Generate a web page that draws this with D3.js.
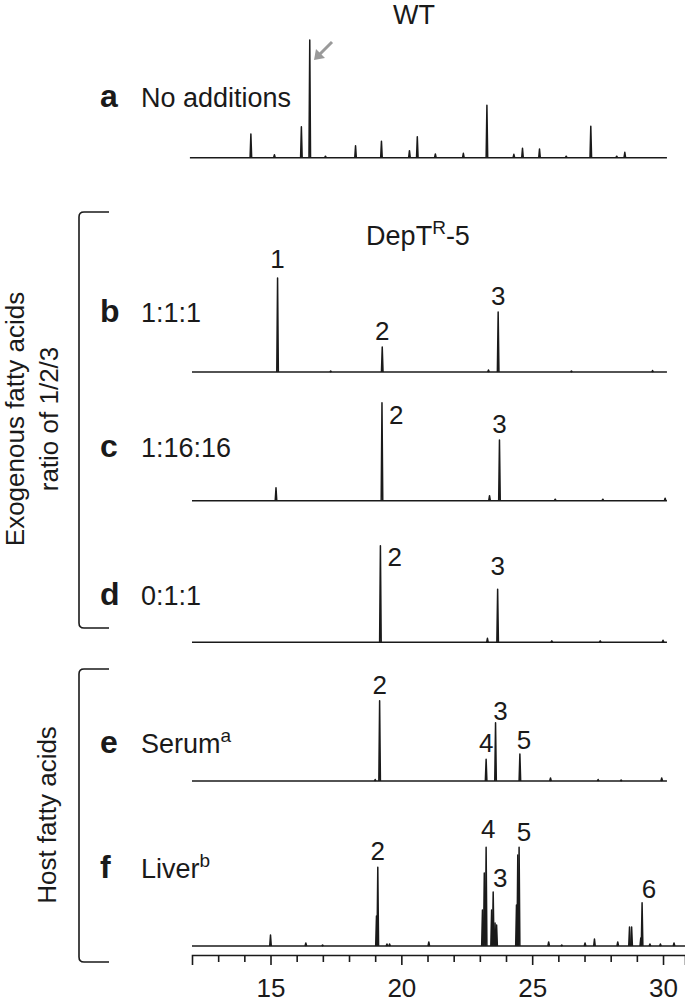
<!DOCTYPE html>
<html>
<head>
<meta charset="utf-8">
<script src="https://cdn.jsdelivr.net/npm/d3@7"></script>
<style>
  body { margin: 0; background: #fff; }
  svg { display: block; font-family: 'Liberation Sans', Arial, Helvetica, sans-serif; }
</style>
</head>
<body>
<div id="chart"></div>
<script>
// retention time axis
const xDomain = [12, 30.84];
const majorTicks = [15, 20, 25, 30];
const minorTicks = [13, 14, 16, 17, 18, 19, 21, 22, 23, 24, 26, 27, 28, 29];

// peaks: [retention time, signal]
const peaksA = [[14.25, 23.7], [15.15, 3], [16.18, 31], [16.5, 117.7], [17.1, 1.5], [18.25, 12],
  [19.24, 16.4], [20.31, 7], [20.61, 21], [21.3, 3.7], [22.37, 4.4], [23.27, 52.4], [24.3, 3.4],
  [24.63, 9.4], [25.28, 8.7], [26.3, 1.5], [27.24, 31.4], [28.23, 1.5], [28.54, 5.4]];
const peaksB = [[15.27, 94], [17.3, 1], [19.27, 25], [23.33, 2], [23.7, 60], [26.5, 1], [29.6, 1.5]];
const peaksC = [[15.21, 13], [19.26, 98], [23.37, 5], [23.75, 60.7], [25.88, 1.5], [27.7, 1.5], [30.08, 2.5]];
const peaksD = [[19.2, 96.6], [23.29, 4], [23.68, 53], [25.75, 1.5], [27.6, 1.5], [30.0, 2]];
const peaksE = [[19.0, 1.5], [19.17, 80.3], [23.24, 21.7], [23.6, 58.3], [24.53, 27], [25.7, 3],
  [27.52, 1.5], [28.4, 1], [29.95, 3]];
const peaksF = [[15.0, 11], [16.35, 3], [16.99, 1], [19.05, 30], [19.1, 78.7], [19.45, 2], [19.55, 2],
  [21.05, 4], [23.1, 36], [23.17, 73], [23.24, 98.7], [23.45, 36], [23.51, 54], [23.58, 23], [23.64, 21],
  [24.4, 41], [24.45, 91], [24.5, 98.7], [25.63, 4], [26.13, 1], [27.02, 3], [27.38, 7], [28.27, 4],
  [28.72, 19], [28.8, 19], [29.15, 8], [29.2, 43.3], [29.5, 2], [29.9, 2], [30.42, 3]];

// peak numbers: [label, retention time]
const labelsB = [['1', 15.27], ['2', 19.27], ['3', 23.7]];
const labelsC = [['2', 19.26], ['3', 23.75]];
const labelsD = [['2', 19.2], ['3', 23.68]];
const labelsE = [['2', 19.17], ['4', 23.24], ['3', 23.6], ['5', 24.53]];
const labelsF = [['2', 19.1], ['4', 23.24], ['3', 23.51], ['5', 24.5], ['6', 29.2]];

const width = 685, height = 1004;

const svg = d3.select('#chart').append('svg')
  .attr('width', width)
  .attr('height', height);

const x = d3.scaleLinear().domain(xDomain).range([192, 685]);
const y = d3.scaleLinear().domain([0, 120]).range([0, -120]);

const ink = '#1a1a1a';

// panel layout
const panels = [
  { letter: 'a', name: 'No additions', peaks: peaksA, labels: [], base: 157.7, start: 11.92, end: 30.15, textY: 107 },
  { letter: 'b', name: '1:1:1', peaks: peaksB, labels: labelsB, base: 372, start: 12, end: 30.15, textY: 322 },
  { letter: 'c', name: '1:16:16', peaks: peaksC, labels: labelsC, base: 500.7, start: 12, end: 30.15, textY: 457 },
  { letter: 'd', name: '0:1:1', peaks: peaksD, labels: labelsD, base: 642.3, start: 12, end: 30.15, textY: 605 },
  { letter: 'e', name: 'Serum', sup: 'a', peaks: peaksE, labels: labelsE, base: 781, start: 12, end: 30.15, textY: 753 },
  { letter: 'f', name: 'Liver', sup: 'b', peaks: peaksF, labels: labelsF, base: 946, start: 12, end: 30.84, textY: 878 }
];

// label offsets [dx, dy from peak top, anchor]
const sideLabels = { c2: [7, 21, 'start'], d2: [7, 20, 'start'], d3: [0, -14, 'middle'],
  e5: [4, -5, 'middle'], e3: [5, -3, 'middle'], f3: [7, -5, 'middle'], f5: [5, -6, 'middle'],
  f6: [7, -5, 'middle'], f4: [2, -9, 'middle'], b1: [0, -10, 'middle'] };

const peakLine = d3.line().x(d => x(d[0])).y(d => y(d[1]));
const hw = 0.03;

panels.forEach(p => {
  const g = svg.append('g').attr('transform', `translate(0,${p.base})`);

  // baseline
  g.append('path')
    .attr('d', peakLine([[p.start, 0], [p.end, 0]]))
    .attr('fill', 'none').attr('stroke', ink).attr('stroke-width', 1.6);

  // peaks
  g.selectAll('path.peak').data(p.peaks).join('path')
    .attr('class', 'peak')
    .attr('d', d => peakLine([[d[0] - hw, 0], [d[0], d[1]], [d[0] + hw, 0]]))
    .attr('fill', 'none').attr('stroke', ink).attr('stroke-width', 1.5)
    .attr('stroke-linejoin', 'round');

  // peak numbers
  g.selectAll('text.num').data(p.labels).join('text')
    .attr('class', 'num')
    .each(function (d) {
      const top = d3.max(p.peaks.filter(k => Math.abs(k[0] - d[1]) < 0.08), k => k[1]);
      const off = sideLabels[p.letter + d[0]] || [0, -7, 'middle'];
      d3.select(this)
        .attr('x', x(d[1]) + off[0])
        .attr('y', y(top) + off[1])
        .attr('text-anchor', off[2]);
    })
    .attr('font-size', 26).attr('fill', ink)
    .text(d => d[0]);

  // panel letter and name
  svg.append('text').attr('x', 100).attr('y', p.textY)
    .attr('font-size', 32).attr('font-weight', 'bold').attr('fill', ink)
    .text(p.letter);
  const t = svg.append('text').attr('x', 141).attr('y', p.textY)
    .attr('font-size', 27).attr('fill', ink).text(p.name);
  if (p.sup) {
    t.append('tspan').attr('dy', -11).attr('font-size', 19).text(p.sup);
  }
});

// axis
const axisG = svg.append('g').attr('transform', 'translate(0,955)');
axisG.call(d3.axisBottom(x).tickValues(majorTicks).tickSize(10).tickSizeOuter(10).tickPadding(14)
  .tickFormat(d3.format('d')));
axisG.append('g').call(d3.axisBottom(x).tickValues(minorTicks).tickSize(7).tickFormat(''))
  .select('.domain').remove();
axisG.selectAll('path, line').attr('stroke', ink).attr('stroke-width', 1.6);
axisG.selectAll('text').attr('font-size', 26).attr('fill', ink)
  .attr('font-family', "'Liberation Sans', Arial, sans-serif");

// titles
svg.append('text').attr('x', 414).attr('y', 24).attr('text-anchor', 'middle')
  .attr('font-size', 27).attr('fill', ink).text('WT');
const dep = svg.append('text').attr('x', 418).attr('y', 245).attr('text-anchor', 'middle')
  .attr('font-size', 27).attr('fill', ink);
dep.append('tspan').text('DepT');
dep.append('tspan').attr('dy', -11).attr('font-size', 19).text('R');
dep.append('tspan').attr('dy', 11).text('-5');

// arrow to the main WT peak
svg.append('line').attr('x1', 332).attr('y1', 42).attr('x2', 320).attr('y2', 54)
  .attr('stroke', '#9a9a9a').attr('stroke-width', 3);
svg.append('path').attr('d', 'M314,60 L316,49 L325,58 Z').attr('fill', '#9a9a9a');

// brackets and group labels
const bracket = (top, bottom) => `M109,${top} H84 Q79,${top} 79,${top + 5} V${bottom - 5} Q79,${bottom} 84,${bottom} H109`;
svg.append('path').attr('d', bracket(212, 628)).attr('fill', 'none').attr('stroke', ink).attr('stroke-width', 1.6);
svg.append('path').attr('d', bracket(669, 962)).attr('fill', 'none').attr('stroke', ink).attr('stroke-width', 1.6);

const vlabel = (tx, ty, s) => svg.append('text')
  .attr('transform', `translate(${tx},${ty}) rotate(-90)`)
  .attr('text-anchor', 'middle').attr('font-size', 26).attr('fill', ink).text(s);
vlabel(24, 419, 'Exogenous fatty acids');
vlabel(58, 419, 'ratio of 1/2/3');
vlabel(56, 815, 'Host fatty acids');
</script>
</body>
</html>
